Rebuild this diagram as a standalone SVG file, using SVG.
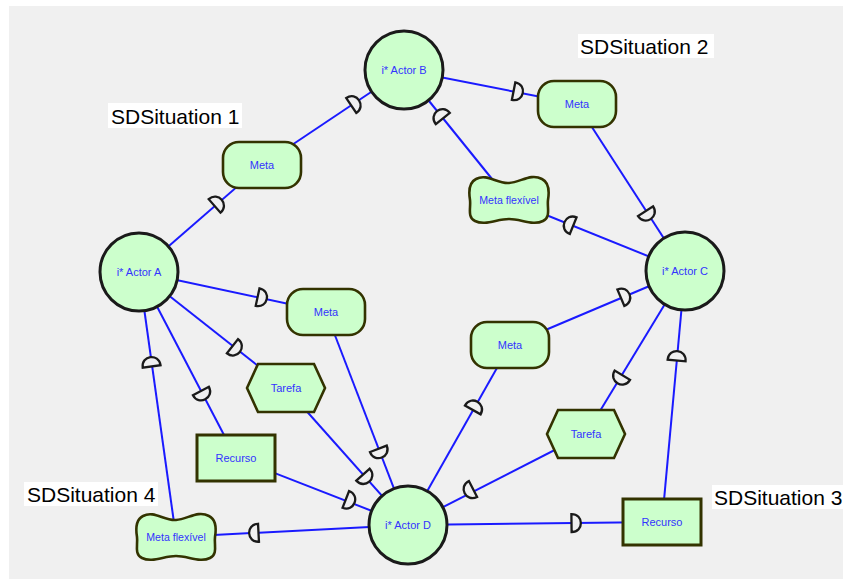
<svg xmlns="http://www.w3.org/2000/svg" xmlns:xlink="http://www.w3.org/1999/xlink" width="845" height="581" viewBox="0 0 845 581">
  <style>
    .link { stroke: #1a1aff; stroke-width: 2; fill: none; }
    .actor { fill: #ccffcc; stroke: #1a1a1a; stroke-width: 3; }
    .elem { fill: #ccffcc; stroke: #333300; stroke-width: 2.6; }
    .res { fill: #ccffcc; stroke: #333300; stroke-width: 3; }
    .lbl { font-family: "Liberation Sans", Arial, sans-serif; font-size: 11px; fill: #3333ff; text-anchor: middle; }
    .sit { font-family: "Liberation Sans", Arial, sans-serif; font-size: 21px; fill: #000; }
    .dep { fill: #f0f0f0; stroke: #1a1a1a; stroke-width: 2.3; }
  </style>
  <defs>
    <!-- dependency "D" mark, curved side points along +x -->
    <path id="dmark" class="dep" d="M-4.5,-9 C8,-9 8,9 -4.5,9 Z"/>
    <path id="softgoal" class="elem" d="M-33,-21 C-22,-27 -12,-16 0,-17 C12,-18 22,-27 33,-21 C41,-17 40,-6 39,0 C38,8 42,17 34,21 C24,26 12,19 0,19 C-12,19 -24,26 -34,21 C-42,17 -38,8 -39,0 C-40,-6 -41,-17 -33,-21 Z"/>
    <polygon id="task" class="elem" points="-39,0 -28,-24 28,-24 39,0 28,24 -28,24"/>
    <rect id="goal" class="elem" x="-39" y="-23" width="78" height="46" rx="16" ry="16"/>
    <rect id="resource" class="res" x="-39" y="-23" width="78" height="46"/>
  </defs>

  <rect x="9" y="6" width="834" height="573" fill="#f0f0f0"/>

  <!-- connectors -->
  <g id="links">
    <line class="link" x1="139" y1="272" x2="262" y2="165"/>
    <line class="link" x1="262" y1="165" x2="404" y2="70"/>
    <line class="link" x1="404" y1="70" x2="577" y2="104"/>
    <line class="link" x1="577" y1="104" x2="685" y2="271"/>
    <line class="link" x1="509" y1="200" x2="404" y2="70"/>
    <line class="link" x1="685" y1="271" x2="509" y2="200"/>
    <line class="link" x1="139" y1="272" x2="326" y2="312"/>
    <line class="link" x1="326" y1="312" x2="408" y2="525"/>
    <line class="link" x1="139" y1="272" x2="286" y2="388"/>
    <line class="link" x1="286" y1="388" x2="408" y2="525"/>
    <line class="link" x1="139" y1="272" x2="236" y2="458"/>
    <line class="link" x1="236" y1="458" x2="408" y2="525"/>
    <line class="link" x1="408" y1="525" x2="176" y2="537"/>
    <line class="link" x1="176" y1="537" x2="139" y2="272"/>
    <line class="link" x1="408" y1="525" x2="510" y2="345"/>
    <line class="link" x1="510" y1="345" x2="685" y2="271"/>
    <line class="link" x1="685" y1="271" x2="586" y2="434"/>
    <line class="link" x1="586" y1="434" x2="408" y2="525"/>
    <line class="link" x1="408" y1="525" x2="662" y2="522"/>
    <line class="link" x1="662" y1="522" x2="685" y2="271"/>

    <use xlink:href="#dmark" transform="translate(218,203) rotate(-41)"/>
    <use xlink:href="#dmark" transform="translate(355,103) rotate(-33.8)"/>
    <use xlink:href="#dmark" transform="translate(518,92) rotate(11.1)"/>
    <use xlink:href="#dmark" transform="translate(648,215) rotate(57.1)"/>
    <use xlink:href="#dmark" transform="translate(440,115) rotate(-128.9)"/>
    <use xlink:href="#dmark" transform="translate(569,224) rotate(-158)"/>
    <use xlink:href="#dmark" transform="translate(262,298) rotate(12.1)"/>
    <use xlink:href="#dmark" transform="translate(380,453) rotate(68.9)"/>
    <use xlink:href="#dmark" transform="translate(236,349) rotate(38.3)"/>
    <use xlink:href="#dmark" transform="translate(366,478) rotate(48.3)"/>
    <use xlink:href="#dmark" transform="translate(203,395) rotate(62.5)"/>
    <use xlink:href="#dmark" transform="translate(350,501) rotate(21.3)"/>
    <use xlink:href="#dmark" transform="translate(254,533) rotate(177)"/>
    <use xlink:href="#dmark" transform="translate(151,362) rotate(-97.9)"/>
    <use xlink:href="#dmark" transform="translate(475,406) rotate(-60.5)"/>
    <use xlink:href="#dmark" transform="translate(625,296) rotate(-22.9)"/>
    <use xlink:href="#dmark" transform="translate(620,379) rotate(121.3)"/>
    <use xlink:href="#dmark" transform="translate(469,491) rotate(152.9)"/>
    <use xlink:href="#dmark" transform="translate(576,523) rotate(-0.7)"/>
    <use xlink:href="#dmark" transform="translate(677,356) rotate(-84.8)"/>
  </g>

  <!-- actors -->
  <g id="actor-a"><circle class="actor" cx="139" cy="272" r="39"/><text class="lbl" x="139" y="276">i* Actor A</text></g>
  <g id="actor-b"><circle class="actor" cx="404" cy="70" r="39"/><text class="lbl" x="404" y="74">i* Actor B</text></g>
  <g id="actor-c"><circle class="actor" cx="685" cy="271" r="39"/><text class="lbl" x="685" y="275">i* Actor C</text></g>
  <g id="actor-d"><circle class="actor" cx="408" cy="525" r="39"/><text class="lbl" x="408" y="529">i* Actor D</text></g>

  <!-- dependums -->
  <g id="meta-ab" transform="translate(262,165)"><use xlink:href="#goal"/><text class="lbl" x="0" y="4">Meta</text></g>
  <g id="meta-bc" transform="translate(577,104)"><use xlink:href="#goal"/><text class="lbl" x="0" y="4">Meta</text></g>
  <g id="softgoal-bc" transform="translate(509,200)"><use xlink:href="#softgoal"/><text class="lbl" x="0" y="4" style="font-size:10.6px">Meta flexível</text></g>
  <g id="meta-ad" transform="translate(326,312)"><use xlink:href="#goal"/><text class="lbl" x="0" y="4">Meta</text></g>
  <g id="meta-cd" transform="translate(510,345)"><use xlink:href="#goal"/><text class="lbl" x="0" y="4">Meta</text></g>
  <g id="tarefa-ad" transform="translate(286,388)"><use xlink:href="#task"/><text class="lbl" x="0" y="4">Tarefa</text></g>
  <g id="tarefa-cd" transform="translate(586,434)"><use xlink:href="#task"/><text class="lbl" x="0" y="4">Tarefa</text></g>
  <g id="recurso-ad" transform="translate(236,458)"><use xlink:href="#resource"/><text class="lbl" x="0" y="4">Recurso</text></g>
  <g id="recurso-cd" transform="translate(662,522)"><use xlink:href="#resource"/><text class="lbl" x="0" y="4">Recurso</text></g>
  <g id="softgoal-ad" transform="translate(176,537)"><use xlink:href="#softgoal"/><text class="lbl" x="0" y="4" style="font-size:10.6px">Meta flexível</text></g>

  <!-- situation labels -->
  <g id="sds1"><rect x="108" y="103" width="134" height="25" fill="#fff"/><text class="sit" x="111" y="124">SDSituation 1</text></g>
  <g id="sds2"><rect x="578" y="34" width="136" height="24" fill="#fff"/><text class="sit" x="580" y="54">SDSituation 2</text></g>
  <g id="sds3"><rect x="712" y="485" width="131" height="24" fill="#fff"/><text class="sit" x="714" y="505">SDSituation 3</text></g>
  <g id="sds4"><rect x="24" y="482" width="134" height="24" fill="#fff"/><text class="sit" x="27" y="502">SDSituation 4</text></g>
</svg>
